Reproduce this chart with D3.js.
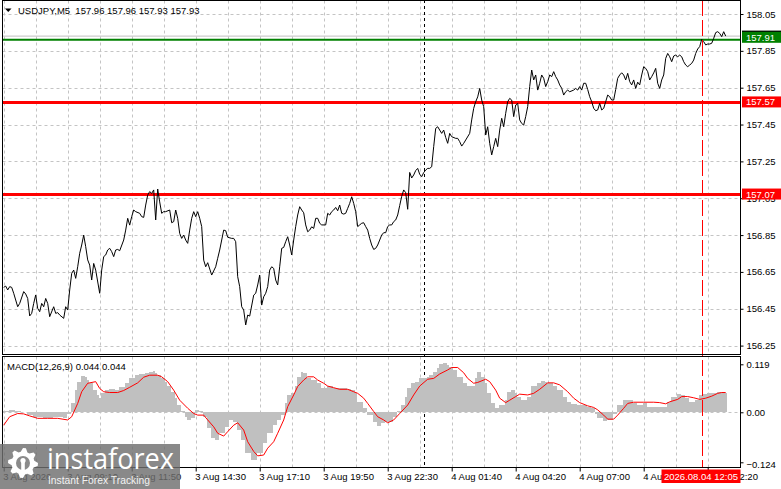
<!DOCTYPE html>
<html>
<head>
<meta charset="utf-8">
<script src="https://cdn.jsdelivr.net/npm/d3@7"></script>
<style>
  html, body { margin: 0; padding: 0; background: #fff; }
  svg { display: block; font-family: 'Liberation Sans', Arial, sans-serif; }
</style>
</head>
<body>
<svg id="chart" width="781" height="489"></svg>
<script>
// bar = number of M5 bars since 3 Aug 06:30
const closes = [[0,156.566],[1,156.573],[2,156.552],[3,156.570],[4,156.566],[5,156.534],[7,156.461],[8,156.479],[10,156.543],[11,156.530],[12,156.506],[13,156.411],[14,156.425],[15,156.479],[16,156.525],[17,156.452],[18,156.434],[19,156.479],[20,156.461],[21,156.506],[22,156.479],[23,156.407],[25,156.461],[26,156.425],[27,156.429],[28,156.416],[30,156.398],[31,156.461],[32,156.443],[33,156.552],[34,156.642],[35,156.660],[36,156.615],[37,156.678],[38,156.751],[39,156.796],[40,156.850],[41,156.787],[42,156.715],[43,156.687],[44,156.606],[45,156.696],[46,156.660],[48,156.534],[49,156.660],[50,156.733],[51,156.742],[52,156.769],[53,156.778],[54,156.760],[55,156.733],[56,156.769],[57,156.772],[58,156.765],[60,156.823],[61,156.877],[62,156.941],[63,156.904],[64,156.950],[65,156.986],[66,156.977],[68,156.968],[69,156.950],[70,156.946],[71,157.013],[72,157.067],[73,157.086],[74,157.076],[75,157.095],[76,156.932],[77,157.100],[78,157.030],[79,156.968],[80,156.977],[81,156.977],[83,156.986],[84,156.917],[85,156.923],[86,156.986],[87,156.941],[88,156.859],[89,156.832],[90,156.850],[91,156.823],[92,156.805],[93,156.877],[94,156.941],[95,156.977],[96,156.950],[97,156.977],[98,156.941],[99,156.896],[100,156.714],[101,156.678],[102,156.700],[104,156.633],[106,156.678],[107,156.724],[108,156.769],[110,156.877],[111,156.874],[112,156.838],[114,156.832],[115,156.832],[116,156.814],[117,156.624],[118,156.570],[119,156.461],[120,156.443],[121,156.362],[122,156.416],[123,156.410],[125,156.524],[126,156.534],[127,156.579],[128,156.633],[129,156.470],[130,156.515],[131,156.534],[132,156.570],[133,156.660],[134,156.678],[135,156.669],[136,156.606],[137,156.579],[138,156.678],[139,156.778],[140,156.783],[141,156.814],[142,156.841],[143,156.796],[144,156.742],[145,156.823],[146,156.896],[147,156.959],[148,157.004],[149,156.986],[150,156.971],[151,156.905],[152,156.868],[153,156.877],[154,156.895],[155,156.886],[156,156.941],[157,156.941],[158,156.914],[159,156.905],[161,156.905],[162,156.968],[163,156.959],[164,156.977],[165,156.986],[166,157.000],[167,156.982],[168,157.013],[169,156.968],[170,156.964],[171,156.968],[172,156.995],[173,157.022],[174,157.058],[175,157.022],[176,156.977],[177,156.896],[178,156.905],[179,156.914],[180,156.917],[181,156.896],[182,156.877],[183,156.832],[184,156.796],[185,156.772],[186,156.778],[187,156.796],[188,156.823],[189,156.850],[190,156.863],[191,156.863],[192,156.896],[193,156.905],[194,156.905],[195,156.923],[196,156.932],[197,156.959],[198,157.010],[199,157.060],[200,157.095],[201,157.080],[202,156.990],[203,157.190],[204,157.160],[205,157.176],[206,157.200],[207,157.212],[208,157.180],[209,157.167],[210,157.189],[211,157.203],[212,157.212],[213,157.212],[214,157.221],[215,157.330],[216,157.429],[217,157.438],[218,157.420],[219,157.402],[220,157.420],[221,157.380],[222,157.348],[223,157.402],[224,157.384],[226,157.375],[227,157.375],[228,157.357],[229,157.333],[230,157.348],[231,157.366],[233,157.402],[234,157.475],[235,157.538],[236,157.574],[237,157.600],[238,157.646],[239,157.583],[240,157.547],[241,157.393],[242,157.438],[243,157.348],[244,157.285],[245,157.330],[246,157.375],[247,157.330],[248,157.420],[249,157.484],[250,157.438],[251,157.511],[252,157.574],[253,157.592],[254,157.583],[255,157.493],[256,157.556],[257,157.565],[258,157.475],[259,157.456],[260,157.447],[261,157.493],[262,157.547],[263,157.656],[264,157.746],[265,157.692],[266,157.719],[267,157.637],[268,157.674],[269,157.719],[270,157.701],[271,157.656],[272,157.683],[273,157.719],[274,157.710],[275,157.737],[276,157.710],[277,157.692],[278,157.665],[279,157.647],[280,157.610],[281,157.628],[282,157.637],[283,157.628],[285,157.637],[286,157.646],[287,157.637],[288,157.656],[289,157.637],[290,157.674],[291,157.674],[292,157.640],[293,157.601],[294,157.574],[295,157.538],[296,157.525],[297,157.529],[298,157.565],[299,157.529],[300,157.538],[301,157.574],[302,157.610],[303,157.601],[304,157.583],[305,157.583],[306,157.640],[307,157.701],[308,157.719],[309,157.731],[310,157.719],[311,157.692],[312,157.728],[313,157.683],[314,157.665],[315,157.692],[316,157.646],[317,157.680],[318,157.665],[319,157.719],[320,157.764],[321,157.755],[322,157.737],[323,157.692],[324,157.710],[325,157.730],[326,157.755],[327,157.674],[328,157.646],[329,157.692],[330,157.719],[331,157.809],[332,157.836],[333,157.818],[334,157.791],[335,157.822],[336,157.827],[337,157.818],[338,157.827],[339,157.818],[340,157.791],[341,157.773],[342,157.764],[343,157.773],[344,157.782],[345,157.800],[346,157.836],[347,157.860],[348,157.873],[349,157.912],[350,157.900],[351,157.882],[352,157.887],[353,157.887],[354,157.891],[355,157.918],[356,157.949],[357,157.954],[358,157.945],[359,157.927],[360,157.954],[361,157.930]]

const macdHist = [[0,0.003],[3,0.006],[6,0.002],[9,0.000],[12,-0.006],[15,-0.011],[20,-0.015],[25,-0.011],[30,-0.015],[32,-0.003],[34,0.022],[36,0.055],[37,0.076],[39,0.090],[41,0.088],[42,0.080],[43,0.072],[45,0.055],[47,0.043],[48,0.035],[49,0.047],[51,0.055],[53,0.057],[56,0.055],[58,0.062],[61,0.072],[63,0.084],[66,0.092],[68,0.095],[71,0.097],[73,0.101],[75,0.103],[76,0.098],[77,0.092],[79,0.084],[81,0.076],[82,0.064],[84,0.051],[86,0.035],[87,0.018],[89,0.002],[91,-0.011],[92,-0.019],[94,-0.015],[96,0.006],[98,0.004],[100,-0.011],[102,-0.040],[104,-0.064],[106,-0.069],[108,-0.052],[111,-0.036],[113,-0.019],[115,-0.023],[117,-0.044],[119,-0.069],[121,-0.102],[124,-0.118],[126,-0.118],[127,-0.102],[130,-0.077],[132,-0.052],[135,-0.031],[137,-0.019],[139,-0.007],[141,0.022],[142,0.043],[144,0.047],[146,0.064],[147,0.088],[149,0.101],[150,0.097],[152,0.084],[154,0.080],[157,0.072],[159,0.059],[162,0.064],[165,0.059],[168,0.059],[172,0.057],[174,0.055],[176,0.047],[177,0.026],[180,0.010],[182,-0.007],[185,-0.023],[187,-0.034],[189,-0.027],[191,-0.023],[195,-0.011],[197,0.002],[199,0.018],[201,0.039],[202,0.059],[204,0.072],[206,0.076],[208,0.084],[210,0.084],[212,0.088],[213,0.092],[215,0.101],[217,0.109],[218,0.120],[220,0.121],[222,0.117],[223,0.113],[225,0.105],[227,0.088],[230,0.072],[232,0.064],[234,0.064],[236,0.084],[237,0.101],[239,0.088],[241,0.072],[242,0.047],[244,0.022],[246,0.010],[248,0.018],[251,0.030],[252,0.051],[254,0.055],[256,0.047],[257,0.039],[259,0.030],[262,0.039],[264,0.064],[267,0.072],[269,0.078],[271,0.076],[272,0.072],[275,0.064],[277,0.055],[280,0.039],[282,0.026],[284,0.020],[287,0.018],[289,0.018],[292,0.014],[294,0.010],[296,-0.003],[297,-0.015],[300,-0.021],[302,-0.019],[305,-0.003],[307,0.018],[310,0.030],[312,0.030],[315,0.022],[317,0.018],[320,0.022],[322,0.014],[325,0.014],[327,0.014],[330,0.012],[332,0.026],[334,0.039],[337,0.045],[339,0.043],[341,0.035],[343,0.026],[346,0.030],[348,0.043],[350,0.045],[352,0.047],[355,0.049],[357,0.051],[359,0.051],[361,0.049]]

const macdSignal = [[0,-0.032],[3,-0.011],[7,-0.003],[10,-0.004],[13,-0.009],[17,-0.015],[22,-0.015],[27,-0.015],[32,-0.019],[34,-0.011],[37,0.022],[39,0.051],[42,0.072],[46,0.076],[48,0.059],[50,0.051],[53,0.049],[57,0.049],[60,0.054],[63,0.062],[67,0.073],[70,0.087],[73,0.092],[77,0.092],[79,0.088],[82,0.076],[85,0.055],[88,0.030],[92,0.010],[95,-0.003],[97,-0.007],[100,-0.007],[102,-0.019],[105,-0.036],[107,-0.052],[110,-0.059],[112,-0.048],[115,-0.032],[117,-0.026],[120,-0.044],[122,-0.073],[125,-0.097],[127,-0.108],[130,-0.106],[132,-0.089],[135,-0.073],[137,-0.052],[140,-0.019],[142,0.014],[145,0.043],[147,0.064],[150,0.080],[152,0.088],[155,0.088],[157,0.080],[160,0.072],[162,0.065],[165,0.061],[168,0.057],[172,0.057],[175,0.051],[177,0.047],[180,0.035],[182,0.022],[185,0.002],[187,-0.011],[190,-0.019],[192,-0.026],[195,-0.019],[198,-0.003],[202,0.018],[205,0.043],[208,0.065],[212,0.082],[215,0.084],[218,0.095],[222,0.105],[224,0.111],[227,0.111],[230,0.098],[232,0.084],[235,0.072],[237,0.074],[241,0.082],[243,0.076],[246,0.055],[248,0.035],[251,0.024],[253,0.030],[256,0.039],[258,0.045],[262,0.043],[265,0.047],[268,0.057],[272,0.073],[275,0.073],[278,0.068],[282,0.051],[285,0.035],[288,0.024],[292,0.016],[295,0.012],[297,0.006],[300,-0.007],[302,-0.017],[305,-0.017],[307,-0.007],[310,0.010],[312,0.022],[315,0.025],[320,0.025],[325,0.025],[328,0.024],[331,0.021],[333,0.026],[337,0.032],[339,0.039],[342,0.039],[345,0.036],[348,0.032],[351,0.035],[354,0.040],[357,0.047],[359,0.049],[361,0.049]]

const priceTicks = [156.25, 156.45, 156.65, 156.85, 157.05, 157.25, 157.45, 157.65, 157.85, 158.05]
const macdTicks = [-0.124, 0, 0.119]
const labelBars = [0, 32, 64, 96, 128, 160, 192, 224, 256, 288, 320, 352]
const timeLabels = ['3 Aug 2026', '3 Aug 09:10', '3 Aug 11:50', '3 Aug 14:30', '3 Aug 17:10', '3 Aug 19:50', '3 Aug 22:30', '4 Aug 01:40', '4 Aug 04:20', '4 Aug 07:00', '4 Aug 09:40', '4 Aug 12:20']
const gridBars = d3.range(0, 369, 16)
const levelLines = [157.57, 157.07]
const targetLine = 157.91
const bidPrice = 157.93
const daySeparatorBar = 210
const cursorBar = 349
const cursorLabel = '2026.08.04 12:05'
const title = 'USDJPY,M5  157.96 157.96 157.93 157.93'
const macdTitle = 'MACD(12,26,9) 0.044 0.044'

const svg = d3.select('#chart')
const left = 2.5
const right = 740.5
const main = { top: 0.5, bottom: 354.5 }
const sub = { top: 356.5, bottom: 467.5 }

const x = d3.scaleLinear().domain([0, 368]).range([3.7, 739.7])
const y = d3.scaleLinear().domain([156.25, 158.05]).range([345.6, 14])
const yM = d3.scaleLinear().domain([-0.124, 0.119]).range([462.3, 364.3])

const defs = svg.append('defs')
defs.append('clipPath').attr('id', 'clipMain').append('rect')
  .attr('x', left).attr('y', main.top).attr('width', right - left).attr('height', main.bottom - main.top)
defs.append('clipPath').attr('id', 'clipSub').append('rect')
  .attr('x', left).attr('y', sub.top).attr('width', right - left).attr('height', sub.bottom - sub.top)

// grid
const grid = svg.append('g').attr('stroke', '#c4c4c4').attr('stroke-dasharray', '3,3')
grid.selectAll('.vg').data(gridBars).join('line')
  .attr('x1', d => Math.round(x(d)) + 0.5).attr('x2', d => Math.round(x(d)) + 0.5)
  .attr('y1', main.top).attr('y2', main.bottom)
grid.selectAll('.vg2').data(gridBars).join('line')
  .attr('x1', d => Math.round(x(d)) + 0.5).attr('x2', d => Math.round(x(d)) + 0.5)
  .attr('y1', sub.top).attr('y2', sub.bottom)
grid.selectAll('.hg').data(priceTicks).join('line')
  .attr('x1', left).attr('x2', right)
  .attr('y1', d => Math.round(y(d)) + 0.5).attr('y2', d => Math.round(y(d)) + 0.5)
grid.append('line')
  .attr('x1', left).attr('x2', right)
  .attr('y1', Math.round(yM(0)) + 0.5).attr('y2', Math.round(yM(0)) + 0.5)

// day separator
svg.append('line')
  .attr('x1', Math.round(x(daySeparatorBar)) + 0.5).attr('x2', Math.round(x(daySeparatorBar)) + 0.5)
  .attr('y1', 0).attr('y2', sub.bottom)
  .attr('stroke', '#000').attr('stroke-dasharray', '3,3')

// macd histogram
const histG = svg.append('g').attr('clip-path', 'url(#clipSub)').attr('shape-rendering', 'crispEdges')
histG.selectAll('rect').data(macdHist).join('rect')
  .attr('x', d => x(d[0] - 0.5))
  .attr('width', (d, i) => {
    const next = i < macdHist.length - 1 ? macdHist[i + 1][0] : d[0] + 1
    return x(next - 0.5) - x(d[0] - 0.5) + 0.6
  })
  .attr('y', d => Math.min(yM(d[1]), yM(0)))
  .attr('height', d => Math.abs(yM(d[1]) - yM(0)))
  .attr('fill', '#c0c0c0')

svg.append('path')
  .datum(macdSignal)
  .attr('clip-path', 'url(#clipSub)')
  .attr('fill', 'none')
  .attr('stroke', '#ff0000')
  .attr('stroke-width', 1)
  .attr('d', d3.line().x(d => x(d[0])).y(d => yM(d[1])))

// price
const priceG = svg.append('g').attr('clip-path', 'url(#clipMain)')
priceG.append('line')
  .attr('x1', left).attr('x2', right)
  .attr('y1', y(bidPrice)).attr('y2', y(bidPrice))
  .attr('stroke', '#c0c0c0')
priceG.selectAll('.lvl').data(levelLines).join('line')
  .attr('x1', left).attr('x2', right)
  .attr('y1', d => y(d)).attr('y2', d => y(d))
  .attr('stroke', '#ff0000').attr('stroke-width', 3)
priceG.append('line')
  .attr('x1', left).attr('x2', right)
  .attr('y1', y(targetLine)).attr('y2', y(targetLine))
  .attr('stroke', '#008000').attr('stroke-width', 2)
priceG.append('path')
  .datum(closes)
  .attr('fill', 'none')
  .attr('stroke', '#000')
  .attr('stroke-width', 1)
  .attr('d', d3.line().x(d => x(d[0])).y(d => y(d[1])))

svg.append('line')
  .attr('x1', Math.round(x(cursorBar)) + 0.5).attr('x2', Math.round(x(cursorBar)) + 0.5)
  .attr('y1', 0).attr('y2', sub.bottom)
  .attr('stroke', '#ff0000').attr('stroke-dasharray', '16,4')

// frames
svg.append('rect').attr('x', left).attr('y', main.top).attr('width', right - left).attr('height', main.bottom - main.top)
  .attr('fill', 'none').attr('stroke', '#000')
svg.append('rect').attr('x', left).attr('y', sub.top).attr('width', right - left).attr('height', sub.bottom - sub.top)
  .attr('fill', 'none').attr('stroke', '#000')

// axes
const fontSize = '9.5px'
const priceAxis = svg.append('g')
  .attr('transform', `translate(${right},0)`)
  .call(d3.axisRight(y).tickValues(priceTicks).tickSize(3).tickPadding(3).tickFormat(d3.format('.2f')))
const macdAxis = svg.append('g')
  .attr('transform', `translate(${right},0)`)
  .call(d3.axisRight(yM).tickValues(macdTicks).tickSize(3).tickPadding(3).tickFormat(d => d === 0 ? '0.00' : d3.format('.3f')(d)))
macdAxis.selectAll('.tick').filter(d => d < 0).select('text').attr('y', 2)
const timeAxis = svg.append('g')
  .attr('transform', `translate(0,${sub.bottom})`)
  .call(d3.axisBottom(x).tickValues(labelBars).tickSize(4).tickPadding(2).tickFormat((d, i) => timeLabels[i]))
timeAxis.selectAll('text').attr('text-anchor', 'start').attr('x', -1)
;[priceAxis, macdAxis, timeAxis].forEach(a => {
  a.select('.domain').remove()
  a.selectAll('text').attr('font-size', fontSize).attr('font-family', 'Liberation Sans, Arial, sans-serif').attr('fill', '#000')
  a.selectAll('line').attr('stroke', '#000')
})

// price tags
const tag = (value, fill, dyTop) => {
  const g = svg.append('g')
  const cy = y(value) + dyTop
  g.append('rect').attr('x', right + 1.5).attr('y', cy - 5.5).attr('width', 40).attr('height', 11).attr('fill', fill)
  g.append('text').attr('x', right + 5.5).attr('y', cy + 3.5)
    .attr('font-size', fontSize).attr('fill', '#fff').text(value.toFixed(2))
}
tag(bidPrice, '#000', 0)
tag(targetLine, '#008000', -2.5)
levelLines.forEach(v => tag(v, '#ff0000', -0.5))

// cursor time tag
svg.append('rect').attr('x', 661.5).attr('y', 469.5).attr('width', 79).attr('height', 13.5).attr('fill', '#ff0000')
svg.append('text').attr('x', 664).attr('y', 480)
  .attr('font-size', fontSize).attr('fill', '#fff').text(cursorLabel)

// titles
svg.append('path').attr('d', 'M5,8.5 L11.5,8.5 L8.25,12 Z').attr('fill', '#000')
svg.append('text').attr('x', 18).attr('y', 13.5).attr('font-size', fontSize).attr('fill', '#000')
  .attr('xml:space', 'preserve').text(title)
svg.append('text').attr('x', 7).attr('y', 369.5).attr('font-size', fontSize).attr('fill', '#000').text(macdTitle)

// watermark
const wm = svg.append('g')
wm.append('rect').attr('x', 0).attr('y', 444).attr('width', 180).attr('height', 45)
  .attr('fill', '#6f6f6f').attr('opacity', 0.82)
const gcx = 23
const gcy = 463
const teeth = 8
const gearPts = []
for (let k = 0; k < teeth * 4; k++) {
  const a = (k / (teeth * 4)) * Math.PI * 2 - Math.PI / 2
  const r = (k % 4 === 0 || k % 4 === 1) ? 15 : 11.5
  gearPts.push([gcx + r * Math.cos(a), gcy + r * Math.sin(a)])
}
wm.append('path').attr('d', d3.line().curve(d3.curveLinearClosed)(gearPts)).attr('fill', '#fff')
wm.append('circle').attr('cx', gcx).attr('cy', gcy).attr('r', 7).attr('fill', '#8a8a8a')
wm.append('circle').attr('cx', gcx).attr('cy', gcy - 2.5).attr('r', 2.6).attr('fill', '#fff')
wm.append('rect').attr('x', gcx - 1.8).attr('y', gcy - 1).attr('width', 3.6).attr('height', 12).attr('fill', '#fff')
wm.append('text').attr('x', 47).attr('y', 469)
  .attr('font-family', 'Open Sans, Liberation Sans, sans-serif').attr('font-size', '29px')
  .attr('fill', '#fff').attr('textLength', 127).attr('lengthAdjust', 'spacingAndGlyphs')
  .text('instaforex')
wm.append('text').attr('x', 48).attr('y', 484)
  .attr('font-family', 'Liberation Sans, Arial, sans-serif').attr('font-size', '11px')
  .attr('fill', '#fff').attr('opacity', 0.9).attr('textLength', 102).attr('lengthAdjust', 'spacingAndGlyphs')
  .text('Instant Forex Tracking')
</script>
</body>
</html>
